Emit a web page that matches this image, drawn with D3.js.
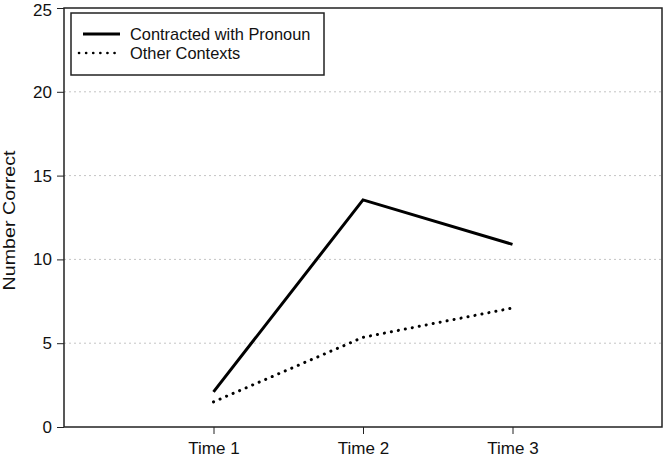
<!DOCTYPE html>
<html><head><meta charset="utf-8">
<script src="https://cdn.jsdelivr.net/npm/d3@7"></script>
<style>body{margin:0;background:#fff}svg{display:block}text{font-family:"Liberation Sans",Arial,sans-serif}</style>
</head><body><svg id="c" width="664" height="457"></svg>
<script>
const categories = ["Time 1", "Time 2", "Time 3"];
const contracted = [2.1, 13.55, 10.9];
const other = [1.5, 5.35, 7.1];
const yTicks = [0, 5, 10, 15, 20, 25];
const seriesNames = ["Contracted with Pronoun", "Other Contexts"];

const svg = d3.select("#c");
const L = 64, R = 662, T = 8, B = 427;
const x = d3.scaleLinear().domain([0, 4]).range([L, R]);
const y = d3.scaleLinear().domain([0, 25]).range([B, T]);
const DOT = "0.1 7";

// grid
svg.append("g").selectAll("line").data(yTicks.filter(d => d > 0 && d < 25)).join("line")
  .attr("x1", L).attr("x2", R).attr("y1", d => y(d)).attr("y2", d => y(d))
  .attr("stroke", "#c4c4c4").attr("stroke-width", 1).attr("stroke-dasharray", "2 3");

// axes
const yAxis = d3.axisLeft(y).tickValues(yTicks).tickSize(7).tickPadding(5);
const gy = svg.append("g").attr("transform", `translate(${L},0)`).call(yAxis);
gy.select(".domain").remove();
gy.selectAll("text").attr("font-size", 17).attr("fill", "#111");
gy.selectAll(".tick").filter(d => d === 25).select("text").attr("y", 2);
gy.selectAll("line").attr("stroke", "#222");

const xAxis = d3.axisBottom(x).tickValues([1, 2, 3]).tickFormat((d, i) => categories[i]).tickSize(7).tickPadding(8);
const gx = svg.append("g").attr("transform", `translate(0,${B})`).call(xAxis);
gx.select(".domain").remove();
gx.selectAll("text").attr("font-size", 17).attr("fill", "#111");
gx.selectAll("line").attr("stroke", "#222");

// frame
svg.append("rect").attr("x", L).attr("y", T).attr("width", R - L).attr("height", B - T)
  .attr("fill", "none").attr("stroke", "#222").attr("stroke-width", 1.5);

// axis title
svg.append("text").attr("transform", `translate(15,${(T + B) / 2 + 3}) rotate(-90)`)
  .attr("text-anchor", "middle").attr("font-size", 17).attr("fill", "#111")
  .attr("textLength", 140).attr("lengthAdjust", "spacingAndGlyphs").text("Number Correct");

const line = d3.line().x((d, i) => x(i + 1)).y(d => y(d));
svg.append("path").datum(contracted).attr("d", line).attr("fill", "none")
  .attr("stroke", "#000").attr("stroke-width", 3).attr("stroke-linejoin", "miter");
svg.append("path").datum(other).attr("d", line).attr("fill", "none")
  .attr("stroke", "#000").attr("stroke-width", 3).attr("stroke-linecap", "round").attr("stroke-dasharray", DOT);

// legend
const lg = svg.append("g");
lg.append("rect").attr("x", 71).attr("y", 13).attr("width", 253).attr("height", 62)
  .attr("fill", "#fff").attr("stroke", "#222").attr("stroke-width", 1.5);
const rows = [{name: seriesNames[0], dash: null, x1: 83}, {name: seriesNames[1], dash: DOT, x1: 79}];
rows.forEach((r, i) => {
  const yy = 34 + i * 19;
  const l = lg.append("line").attr("x1", r.x1).attr("x2", 120).attr("y1", yy).attr("y2", yy)
    .attr("stroke", "#000").attr("stroke-width", 3);
  if (r.dash) l.attr("stroke-dasharray", r.dash).attr("stroke-linecap", "round").attr("stroke-width", 2.6);
  lg.append("text").attr("x", 130).attr("y", yy + 6).attr("font-size", 16.4).attr("fill", "#111").text(r.name);
});
</script></body></html>
